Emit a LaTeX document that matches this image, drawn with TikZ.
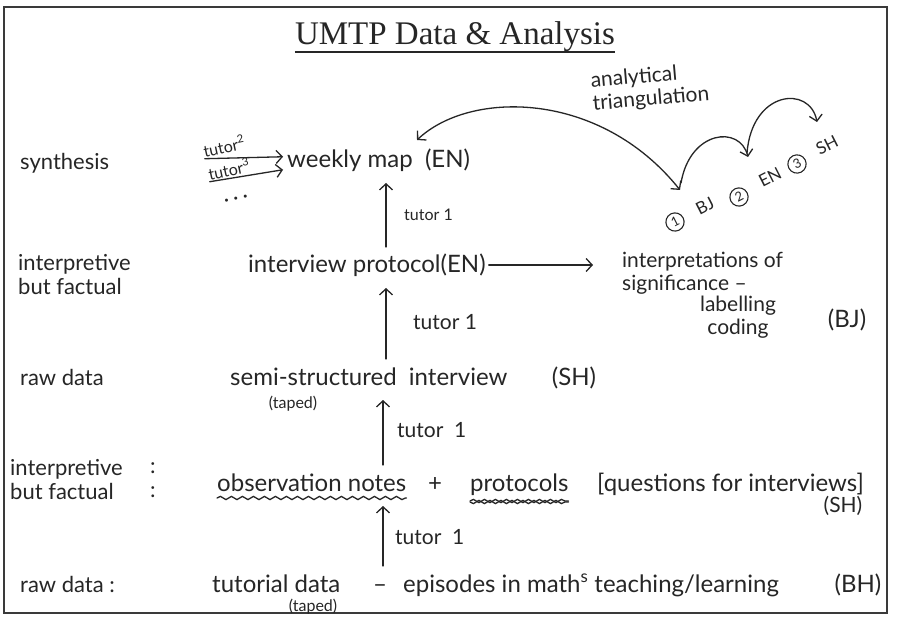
\documentclass[tikz,border=0pt]{standalone}
\usepackage{fontspec}
\setmainfont{Lato}
\newfontfamily\titlefont{Liberation Serif}
\usepackage{tikz}
\usetikzlibrary{arrows.meta,calc,decorations.pathmorphing}
\definecolor{ink}{HTML}{262626}
\definecolor{frameink}{HTML}{3A3A3A}
\newcommand\handbig{\fontsize{24}{26}\selectfont}
\newcommand\handside{\fontsize{22}{24}\selectfont}
\newcommand\handmid{\fontsize{21}{23}\selectfont}
\newcommand\handsmall{\fontsize{16}{18}\selectfont}

\begin{document}
\begin{tikzpicture}[x=1pt,y=-1pt,
  hand/.style={font=\handbig,text=ink,inner sep=0pt},
  side/.style={font=\handside,text=ink,inner sep=0pt},
  note/.style={font=\handmid,text=ink,inner sep=0pt},
  tiny/.style={font=\handsmall,text=ink,inner sep=0pt},
  tag/.style={font=\fontsize{17}{18}\selectfont,text=ink,inner sep=0pt,rotate=27},
  pen/.style={draw=ink,line width=1.3pt,line cap=round},
  barb/.style={-{Straight Barb[length=6pt,width=13pt]}},
  wave/.style={pen,decorate,decoration={snake,amplitude=1.6pt,segment length=11pt}},
  ringed/.style={circle,draw=ink,line width=1.1pt,inner sep=2.2pt,
    font=\fontsize{13}{14}\selectfont,text=ink,rotate=27}]

  \useasboundingbox (0,0) rectangle (899,617);
  \fill[white] (0,0) rectangle (899,617);
  \draw[frameink,line width=1.4pt] (4,7) rectangle (887,613);

  % title
  \node[font=\titlefont\fontsize{33}{38}\selectfont,text=ink,inner sep=0pt,anchor=base]
    (title) at (455,45) {UMTP Data \& Analysis};
  \draw[ink,line width=1.5pt] ([yshift=-7pt]title.base west) -- ([yshift=-7pt]title.base east);

  % levels down the left
  \node[side,anchor=base west] (synth) at (20,170) {synthesis};
  \node[side,anchor=west,align=left] (levelA) at (18,275) {interpretive\\but factual};
  \node[side,anchor=base west] (rawA) at (20,385) {raw data};
  \node[side,anchor=west,align=left] (levelB) at (10,480) {interpretive\\but factual};
  \node[side,anchor=west,align=center] (colons) at (150,480) {:\\:};
  \node[side,anchor=base west] (rawB) at (20,592) {raw data :};

  % main column
  \coordinate (col) at (386,0);
  \coordinate (colB) at (383,0);
  \node[hand,anchor=base west] (map) at (287,168) {weekly\ map\ \ (EN)};
  \node[hand,anchor=base west] (prot) at (248,273) {interview protocol(EN)};
  \node[hand,anchor=base west] (semi) at (230,385) {semi-structured\ \ interview};
  \node[hand,anchor=base] (semiwho) at (574,385) {(SH)};
  \node[tiny,anchor=base] (semitape) at (293,408) {(taped)};
  \node[hand,anchor=base west] (obs) at (217,491) {observation notes};
  \node[hand,anchor=base] (plus) at (435,491) {+};
  \node[hand,anchor=base west] (protos) at (470,491) {protocols};
  \node[hand,anchor=base west] (quest) at (597,491) {[questions for interviews]};
  \node[note,anchor=base] (questwho) at (843,512) {(SH)};
  \node[hand,anchor=base west] (tut) at (212,592) {tutorial data};
  \node[hand,anchor=base] (dash) at (380,592) {--};
  \node[hand,anchor=base west] (episodes) at (403,592) {episodes in math\textsuperscript{s}\ teaching/learning};
  \node[hand,anchor=base] (tutwho) at (858,592) {(BH)};
  \node[tiny,anchor=base] (tuttape) at (313,611) {(taped)};

  \draw[wave] ([yshift=-7pt]obs.base west) -- ([yshift=-7pt]obs.base east);
  \draw[wave] ([yshift=-10pt]protos.base west) -- ([yshift=-10pt]protos.base east);
  \draw[wave,decoration={amplitude=-1.6pt}] ([yshift=-11pt]protos.base west) -- ([yshift=-11pt]protos.base east);

  % tutor steps
  \foreach \lo/\up/\c in {prot/map/col, semi/prot/col, obs/semi/colB, tut/obs/colB}
    \draw[pen,barb] ($(\lo.base -| \c)+(0,-26)$) -- ($(\up.base -| \c)+(0,15)$);
  \node[tiny,anchor=west] (stepA) at (404,215) {tutor 1};
  \node[note,anchor=west] (stepB) at (413,322) {tutor 1};
  \node[note,anchor=west] (stepC) at (397,430) {tutor\ \ 1};
  \node[note,anchor=west] (stepD) at (395,537) {tutor\ \ 1};

  % other tutors
  \node[tiny,rotate=12] (tutorB) at (224,146) {tutor\textsuperscript{2}};
  \node[tiny,rotate=12] (tutorC) at (229,169) {tutor\textsuperscript{3}};
  \node[hand,rotate=12] (more) at (236,199) {.\,.\,.};
  \draw[pen,barb] ([yshift=-1pt]tutorB.south west) -- ($(map.west)+(-4,-4)$);
  \draw[pen,barb] ([yshift=-1pt]tutorC.south west) -- ($(map.west)+(-4,9)$);

  % coding of the protocol
  \node[note,anchor=west,align=left] (interp) at (622,273) {interpretations of\\significance --};
  \node[note,align=center] (coding) at (738,317) {labelling\\coding};
  \node[hand,anchor=base] (interpwho) at (847,328) {(BJ)};
  \draw[pen,barb] ($(prot.base east)+(3,-8)$) -- ($(interp.west)+(-29,-8)$);

  % triangulation
  \node[note,rotate=5,align=left] (tri) at (650,88) {analytical\\triangulation};
  \node[ringed] (one) at (675,222) {1};
  \node[tag] (bj) at (705,206) {BJ};
  \node[ringed] (two) at (739,197) {2};
  \node[tag] (en) at (770,177) {EN};
  \node[ringed] (three) at (797,164) {3};
  \node[tag] (sh) at (827,145) {SH};
  \draw[pen,{Straight Barb[length=6pt,width=13pt]}-{Straight Barb[length=6pt,width=13pt]}]
    ($(map.base -| col)+(31,-28)$) .. controls +(53,-50) and +(-80,-100) .. ($(one)+(5,-32)$);
  \draw[pen,barb] ($(one)+(6,-39)$) .. controls +(9,-53) and +(-8,-32) .. ($(two)+(9,-40)$);
  \draw[pen,barb] ($(two)+(8,-44)$) .. controls +(5,-63) and +(-7,-37) .. ($(three)+(20,-42)$);
\end{tikzpicture}
\end{document}
